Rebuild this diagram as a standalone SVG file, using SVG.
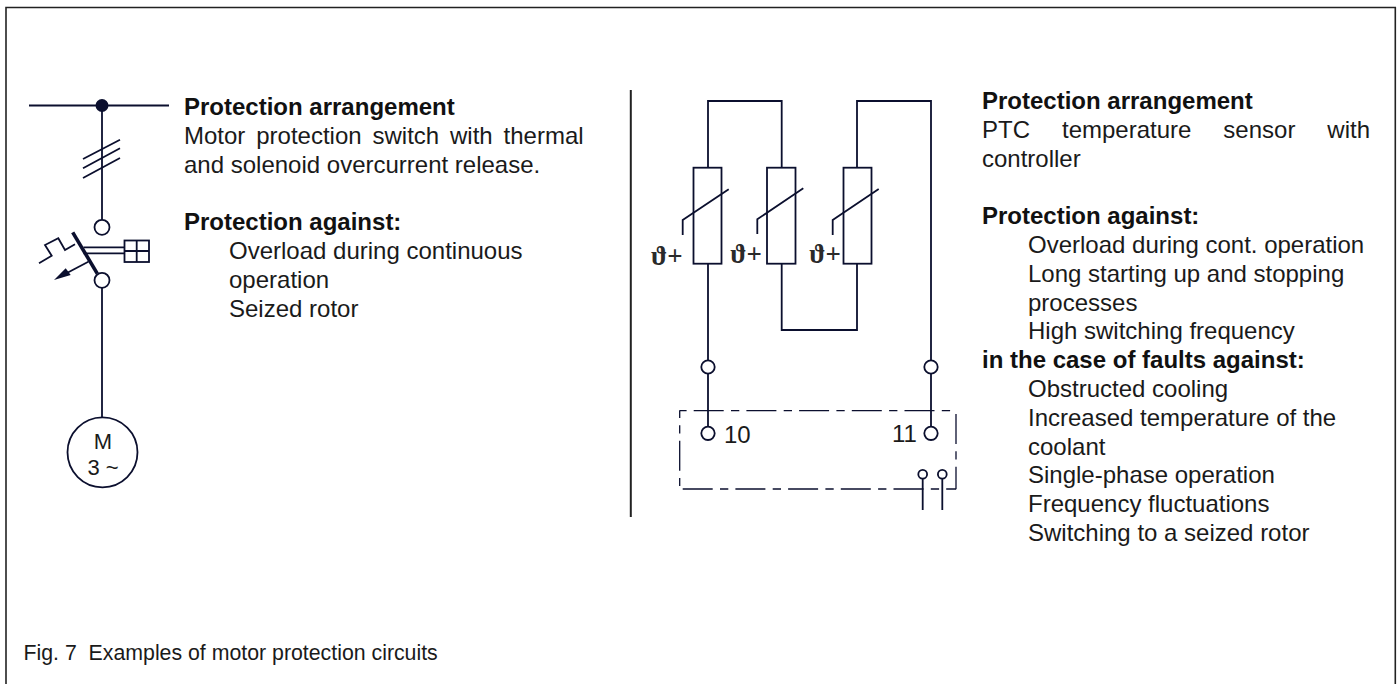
<svg xmlns="http://www.w3.org/2000/svg" width="1399" height="684" viewBox="0 0 1399 684">
<style>
.w{fill:none;stroke:#0b0f2e;stroke-width:1.8}
.t{font-family:"Liberation Sans",Arial,sans-serif;font-size:24px;fill:#1a1a1a}
.b{font-weight:bold;fill:#111}
.o{fill:#fff;stroke:#0b0f2e;stroke-width:1.8}
.th{font-family:"Liberation Serif","DejaVu Serif",serif;font-weight:bold;font-size:27px;fill:#2a2a2a}
.d{fill:none;stroke:#0b0f2e;stroke-width:1.3;stroke-dasharray:30 7.3 8.3 7.1}
</style>
<rect width="1399" height="684" fill="#fff"/>
<path d="M6 684V7.5H1395.3V684" fill="none" stroke="#222" stroke-width="1.6"/>
<g id="connectors">
<path class="w" d="M29 105.5H169M102 105V220M102 288V417"/>
<path class="w" d="M83 159L120 139.7M83 168.3L120 148.3M83 178L120 158"/>
<path class="w" d="M83.5 247.3H124M83.5 253.3H124"/>
<path class="w" d="M39 263.3L51.7 255.7L45 245L58.3 238.3L65 250L75 244.3"/>
<path class="w" d="M88.3 261.7L66 273.5"/>
<path class="w" d="M708 168V101H781.7V168M857 168V101H931V360M708 264V360M781.7 264V330H857V264"/>
<path class="w" d="M708 374V426M931 374V426M922.7 479V510M942.3 479V510"/>
<path d="M630.8 90V517" fill="none" stroke="#222" stroke-width="2"/>
<path class="d" d="M679.5 410.7H952.5" stroke-dashoffset="38.5"/>
<path class="d" d="M956 414V489.3"/>
<path class="d" d="M682.7 489H956"/>
<path class="d" d="M679.7 410.5V486" stroke-dashoffset="22.5"/>
</g>
<g id="bus-dot"><circle cx="102" cy="105.5" r="6.5" fill="#0b0f2e"/></g>
<g id="switch">
<circle class="o" cx="102" cy="227.3" r="7.5"/>
<path d="M72.7 232.3L97.3 273.7" stroke="#0b0f2e" stroke-width="3.6" fill="none"/>
<circle class="o" cx="102" cy="280.3" r="7.5"/>
<path d="M54 280L65.7 268.3L70.7 275Z" fill="#0b0f2e"/>
<rect class="o" x="124.5" y="240.5" width="24.5" height="21.5"/>
<path class="w" d="M136.7 240.5V262M124.5 251H149"/>
</g>
<g id="motor">
<circle class="o" cx="102.5" cy="452.3" r="35"/>
<text class="t" x="103" y="449" text-anchor="middle" style="font-size:22px">M</text>
<text class="t" x="103" y="475" text-anchor="middle" style="font-size:22px">3 ~</text>
</g>
<g id="sensor-1">
<rect class="o" x="693.5" y="167.7" width="28" height="96"/>
<path class="w" d="M682.7 235V220L728.7 189.3"/>
<text class="th" x="651" y="265">ϑ+</text>
</g>
<g id="sensor-2">
<rect class="o" x="767" y="167.7" width="28.5" height="96"/>
<path class="w" d="M757.3 234V219.3L803.3 188.3"/>
<text class="th" x="730.3" y="263">ϑ+</text>
</g>
<g id="sensor-3">
<rect class="o" x="843.5" y="167.7" width="28" height="96"/>
<path class="w" d="M832.7 235V220L878.7 189"/>
<text class="th" x="809.3" y="263">ϑ+</text>
</g>
<g id="terminals">
<circle class="o" cx="708" cy="367" r="6.7"/>
<circle class="o" cx="931" cy="367" r="6.7"/>
<circle class="o" cx="708" cy="433.3" r="6.7"/>
<circle class="o" cx="931" cy="433.3" r="6.7"/>
<circle class="o" cx="922.7" cy="474.3" r="4.4"/>
<circle class="o" cx="942.3" cy="474.3" r="4.4"/>
<text class="t" x="724" y="443">10</text>
<text class="t" x="892" y="441.5">11</text>
</g>
<g id="text-left">
<text class="t b" x="184" y="115">Protection arrangement</text>
<text class="t" x="184" y="143.8" word-spacing="4.2">Motor protection switch with thermal</text>
<text class="t" x="184" y="172.6">and solenoid overcurrent release.</text>
<text class="t b" x="184" y="230.4">Protection against:</text>
<text class="t" x="229" y="259.2">Overload during continuous</text>
<text class="t" x="229" y="288">operation</text>
<text class="t" x="229" y="316.8">Seized rotor</text>
</g>
<g id="text-right">
<text class="t b" x="982" y="109">Protection arrangement</text>
<text class="t" x="982" y="137.8" word-spacing="25.3">PTC temperature sensor with</text>
<text class="t" x="982" y="166.6">controller</text>
<text class="t b" x="982" y="224.2">Protection against:</text>
<text class="t" x="1028" y="253">Overload during cont. operation</text>
<text class="t" x="1028" y="281.8">Long starting up and stopping</text>
<text class="t" x="1028" y="310.6">processes</text>
<text class="t" x="1028" y="339.4">High switching frequency</text>
<text class="t b" x="982" y="368.2">in the case of faults against:</text>
<text class="t" x="1028" y="397">Obstructed cooling</text>
<text class="t" x="1028" y="425.8">Increased temperature of the</text>
<text class="t" x="1028" y="454.6">coolant</text>
<text class="t" x="1028" y="483.4">Single-phase operation</text>
<text class="t" x="1028" y="512.2">Frequency fluctuations</text>
<text class="t" x="1028" y="541">Switching to a seized rotor</text>
</g>
<text class="t" x="23.5" y="660" style="font-size:21.3px" xml:space="preserve">Fig. 7  Examples of motor protection circuits</text>
</svg>
